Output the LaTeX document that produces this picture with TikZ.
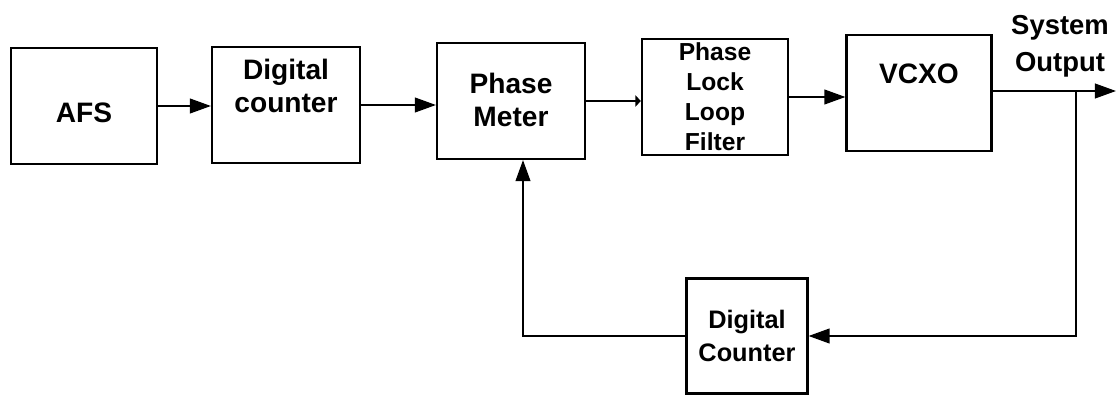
\documentclass[tikz,border=0pt]{standalone}
\usepackage{fontspec}
\setmainfont{Liberation Sans}
\usetikzlibrary{arrows.meta, positioning, calc}

\begin{document}
\begin{tikzpicture}[
  x=0.025cm, y=-0.025cm,
  >={Triangle[length=15pt, width=10.5pt]},
  blockbox/.style={draw, line width=1.5pt, inner sep=0pt,
    minimum width=3.65cm, minimum height=2.9cm},
  blocktext/.style={font=\fontsize{20}{24}\selectfont\bfseries, align=center},
  plltext/.style={font=\fontsize{17.5}{21.3}\selectfont\bfseries, align=center},
  arr/.style={->, line width=1.3pt},
]
\useasboundingbox (0,0) rectangle (1119,395);

% =============================================
% Forward path
% =============================================
\node[blockbox] (afs) at (84,106) {};
\node[blocktext] (afslbl) at (84,113) {AFS};

\node[blockbox, minimum width=3.7cm] (dc) at (286,105) {};
\node[blocktext] (dclbl) at (286,86) {Digital\\counter};

\node[blockbox, minimum width=3.7cm] (pm) at (511,101) {};
\node[blocktext] (pmlbl) at (511,100) {Phase\\Meter};

\node[blockbox] (pll) at (715,97) {};
\node[plltext] (plllbl) at (715,97) {Phase\\Lock\\Loop\\Filter};

\node[blockbox, minimum width=3.625cm] (vcxo) at (919,93) {};
\node[blocktext] (vcxolbl) at (919,74) {VCXO};

% Output label
\node[font=\fontsize{19.5}{26}\selectfont\bfseries, align=center] (outlbl)
  at (1060,46) {System\\Output};

% Connectors
\draw[arr] (afs.east) -- (afs.east -| dc.west);
\draw[arr] (dc.east) -- (dc.east -| pm.west);
\draw[->, line width=1.3pt, >={Triangle[length=4pt, width=8pt]}]
  (pm.east) -- (pm.east -| pll.west);
\draw[arr] (pll.east) -- (pll.east -| vcxo.west);

\coordinate (out) at (1116,91);
\coordinate (tap) at (1076,91);
\draw[arr] (vcxo.east |- out) -- (out);

% =============================================
% Feedback path
% =============================================
\node[blockbox, minimum width=3.025cm, minimum height=2.875cm] (dcb) at (747,336) {};
\node[font=\fontsize{18}{24}\selectfont\bfseries, align=center] (dcblbl)
  at (747,336) {Digital\\Counter};

\draw[arr] (tap) |- (dcb.east);
\draw[arr] (dcb.west) -| ($(pm.south)+(12,0)$);

\end{tikzpicture}
\end{document}
